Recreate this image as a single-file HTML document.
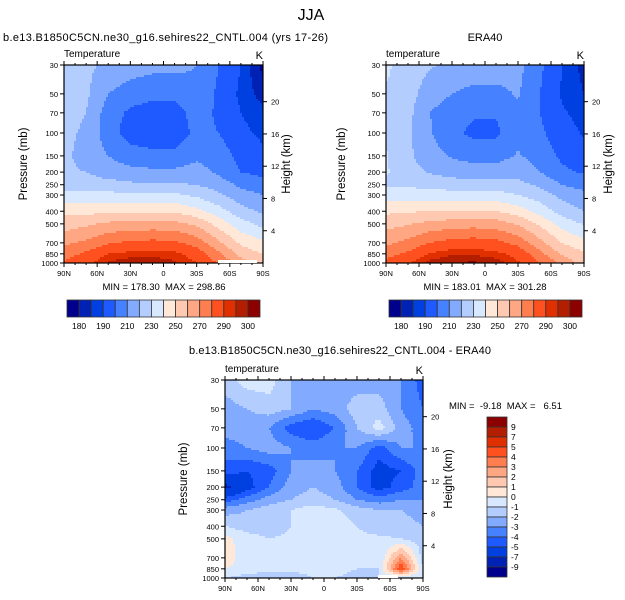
<!DOCTYPE html>
<html><head><meta charset="utf-8"><style>
html,body{margin:0;padding:0;background:#fff}
svg{display:block;font-family:"Liberation Sans",sans-serif}
text{white-space:pre}
</style></head><body>
<svg id="root" width="625" height="600" viewBox="0 0 625 600">
<text x="311" y="20" font-size="16" text-anchor="middle">JJA</text>
<text x="3" y="41" font-size="11" textLength="325">b.e13.B1850C5CN.ne30_g16.sehires22_CNTL.004 (yrs 17-26)</text>
<text x="485" y="41" font-size="11" text-anchor="middle">ERA40</text>
<text x="340" y="354" font-size="11" text-anchor="middle" textLength="302">b.e13.B1850C5CN.ne30_g16.sehires22_CNTL.004 - ERA40</text>
</svg>
<script>
const lats=["90N","70N","50N","30N","10N","10S","30S","50S","70S","90S"];
const levels=[30,50,70,100,150,200,250,300,400,500,700,850,1000];
const tempLevels=[180,185,190,200,210,220,230,240,250,260,270,280,290,295,300];
const tempTickLabels=["180","190","210","230","250","270","290","300"];
const diffLevels=[-9,-7,-5,-4,-3,-2,-1,0,1,2,3,4,5,7,9];
const diffTickLabels=["9","7","5","4","3","2","1","0","-1","-2","-3","-4","-5","-7","-9"];
const pressureTicks=[30,50,70,100,150,200,250,300,400,500,700,850,1000];
const heightTicks=[20,16,12,8,4];
const latTicks=["90N","60N","30N","0","30S","60S","90S"];
const palette=["#00008C","#0022B4","#0040E0","#1E5AFF","#4682FF","#82AAFF","#B4CDFF","#D7E8FF","#FFE8D8","#FFC8B0","#FFA682","#FF7E50","#FF5020","#E03000","#B41E00","#8C0000"];
const modelT=[
[225,222,218,215,213,213,210,200,190,178],
[225,222,210,205,203,203,208,198,188,183],
[224,220,205,198,195,195,205,198,190,186],
[223,218,205,195,193,193,203,200,192,188],
[223,215,210,205,203,203,208,205,197,192],
[222,220,215,213,212,212,214,208,200,197],
[226,225,224,222,221,221,220,215,208,204],
[233,233,233,232,232,232,228,222,214,210],
[247,247,248,249,249,249,243,234,224,218],
[255,258,262,263,264,263,258,246,234,227],
[268,272,279,282,283,282,276,262,248,242],
[275,282,290,292,293,292,286,272,256,250],
[282,288,296,299,299,296,290,279,266,252]];
const eraT=[
[232,225,221,218,216,216,213,202,190,183],
[229,224,215,210,207,207,211,200,189,185],
[228,223,210,204,201,201,208,200,191,187],
[228,222,211,202,198,198,207,202,194,189],
[231,222,214,209,206,206,211,206,198,194],
[231,224,219,216,215,215,217,210,202,199],
[228,228,227,225,224,224,223,218,210,206],
[235,235,235,234,234,234,230,225,217,213],
[248,249,250,250,251,250,245,236,226,220],
[256,259,263,265,266,265,259,248,236,229],
[268,273,280,284,285,283,277,263,250,243],
[276,282,291,294,294,292,287,273,258,252],
[283,289,297,300,301,298,291,280,268,254]];
const diffT=[
[-1.5,-0.5,-0.5,-2,-2.5,-2.5,-2.5,-2.5,-3,-4.5],
[-2.5,-2,-1.5,-2,-3,-2.5,-1.5,-1.5,-3,-4],
[-2.5,-2.5,-3,-4.5,-5,-4,-2,-0.5,-2.5,-3.5],
[-3.5,-3,-2.5,-3,-3.5,-3,-3,-4.5,-3,-3],
[-4.5,-5,-4.5,-3,-2.5,-3,-4,-5.5,-5,-3.5],
[-7.5,-5.5,-4,-2.5,-2,-2.5,-4,-5.5,-4.5,-3.5],
[-4.5,-3.5,-2.5,-2,-1.5,-2,-3,-3.5,-3,-3],
[-2.5,-2,-1.5,-1,-0.5,-0.8,-1.5,-2,-2,-2.5],
[-1,-1.5,-1.5,-1,-0.5,-0.5,-1,-1.5,-1.5,-2],
[0.3,-0.5,-1,-0.8,-0.5,-0.5,-0.8,-0.8,-1,-1.5],
[0.5,-0.5,-0.8,-0.8,-0.5,-0.5,-0.8,-1,3,-1.5],
[0,-0.3,-0.5,-0.5,-0.5,-0.5,-1,-1,5,-1],
[-1,-1.5,-2,-2,-1,-1,-1.5,-1,-1,-1]];

const NS="http://www.w3.org/2000/svg";
const root=document.getElementById('root');
function mk(tag,attrs,parent,txt){const e=document.createElementNS(NS,tag);for(const k in attrs)e.setAttribute(k,attrs[k]);if(txt!==undefined)e.textContent=txt;(parent||root).appendChild(e);return e;}
const lp=levels.map(p=>Math.log(p));
function yOfP(p,y0,h){return y0+h*Math.log(p/30)/Math.log(1000/30);}
function binColor(v,lv){let i=0;while(i<lv.length&&v>=lv[i])i++;return palette[i];}
function sample(data,fx,fy){
 const c=Math.min(1,fx)*(lats.length-1);const ci=Math.min(lats.length-2,Math.floor(c));const tx=c-ci;
 const L=lp[0]+Math.min(1,fy)*(lp[lp.length-1]-lp[0]);let r=0;while(r<lp.length-2&&L>lp[r+1])r++;
 const ty=Math.max(0,Math.min(1,(L-lp[r])/(lp[r+1]-lp[r])));
 const a=data[r][ci]*(1-tx)+data[r][ci+1]*tx,b=data[r+1][ci]*(1-tx)+data[r+1][ci+1]*tx;
 return a*(1-ty)+b*ty;
}
function panel(name,data,lv,x0,y0,w,h,lbl,leftX,rightX){
 const g=mk('g',{},root);
 
 
 const step=2;
 for(let py=0;py<h;py+=step){
  let runStart=0,runCol=null;
  for(let px=0;;px+=step){
   const done=px>=w;
   let col=null;
   if(!done){col=binColor(sample(data,(px+1)/w,(py+1)/h),lv);}
   if(col!==runCol){
    if(runCol!==null){const r=mk('rect',{x:x0+runStart,y:y0+py,width:Math.min(px,w)-runStart+0.5,height:Math.min(step+0.5,h-py),fill:runCol},g);
     
     }
    runStart=px;runCol=col;}
   if(done)break;
  }
 }
 const fr=mk('rect',{x:x0,y:y0,width:w,height:h,fill:'none',stroke:'#000','stroke-width':1.2});
 
 
 pressureTicks.forEach(p=>{const y=yOfP(p,y0,h);
  mk('line',{x1:x0-4,x2:x0,y1:y,y2:y,stroke:'#000'});
  const t=mk('text',{x:x0-6,y:y+3,'font-size':7.5,'text-anchor':'end'},root,String(p));
  
  });
 heightTicks.forEach(km=>{const p=1000*Math.exp(-km/7);const y=yOfP(p,y0,h);
  mk('line',{x1:x0+w,x2:x0+w+4,y1:y,y2:y,stroke:'#000'});
  const t=mk('text',{x:x0+w+8,y:y+3,'font-size':7.5},root,String(km));
  
  });
 latTicks.forEach((s,i)=>{const x=x0+w*i/6;
  mk('line',{x1:x,x2:x,y1:y0+h,y2:y0+h+4,stroke:'#000'});mk('line',{x1:x,x2:x,y1:y0,y2:y0-4,stroke:'#000'});
  const t=mk('text',{x:x,y:y0+h+13,'font-size':7.5,'text-anchor':'middle'},root,s);
  
  });
 for(let i=0;i<18;i++){if(i%3==0)continue;const x=x0+w*i/18;
  mk('line',{x1:x,x2:x,y1:y0+h,y2:y0+h+2,stroke:'#000'});mk('line',{x1:x,x2:x,y1:y0,y2:y0-2,stroke:'#000'});}
 const a=mk('text',{x:x0,y:y0-8,'font-size':10},root,lbl);
 
 const k=mk('text',{x:x0+w,y:y0-6,'font-size':11,'text-anchor':'end'},root,'K');
 
 const yt=mk('text',{x:leftX,y:y0+h/2,'font-size':11.5,'text-anchor':'middle',transform:`rotate(-90 ${leftX} ${y0+h/2})`},root,'Pressure (mb)');
 
 const ht=mk('text',{x:rightX,y:y0+h/2,'font-size':11.5,'text-anchor':'middle',transform:`rotate(-90 ${rightX} ${y0+h/2})`},root,'Height (km)');
 
}
function hbar(name,x0,y0,w,h){
 const bw=w/palette.length;
 palette.forEach((c,i)=>{const r=mk('rect',{x:x0+i*bw,y:y0,width:bw,height:h,fill:c,stroke:'#333','stroke-width':0.8});
  });
 tempTickLabels.forEach((s,j)=>{const t=mk('text',{x:x0+(2*j+1)*bw,y:y0+h+12,'font-size':8.5,'text-anchor':'middle'},root,s);
  });
}
panel('model',modelT,tempLevels,64,65,199,198,'Temperature',27,290);
mk('rect',{x:218,y:260,width:39,height:3,fill:'#fff'});
panel('era40',eraT,tempLevels,386,65,198,198,'temperature',345,612);
panel('diff',diffT,diffLevels,225,380,198,198,'temperature',187,452);
mk('rect',{x:378,y:575,width:20,height:3,fill:'#fff'});
let t;
t=mk('text',{x:164,y:290,'font-size':9.5,'text-anchor':'middle'},root,'MIN = 178.30  MAX = 298.86');

t=mk('text',{x:485,y:290,'font-size':9.5,'text-anchor':'middle'},root,'MIN = 183.01  MAX = 301.28');

t=mk('text',{x:449,y:409,'font-size':9.5},root,'MIN =  -9.18  MAX =   6.51');

hbar('model-colorbar',67,300,193,17);
hbar('era40-colorbar',389,300,193,17);
const vb=10;
palette.slice().reverse().forEach((c,i)=>{const r=mk('rect',{x:487,y:417+i*vb,width:20,height:vb,fill:c,stroke:'#333','stroke-width':0.8});
 });
diffTickLabels.forEach((s,i)=>{const t2=mk('text',{x:511,y:417+(i+1)*vb+3,'font-size':8.5},root,s);
 });
</script>
</body></html>
